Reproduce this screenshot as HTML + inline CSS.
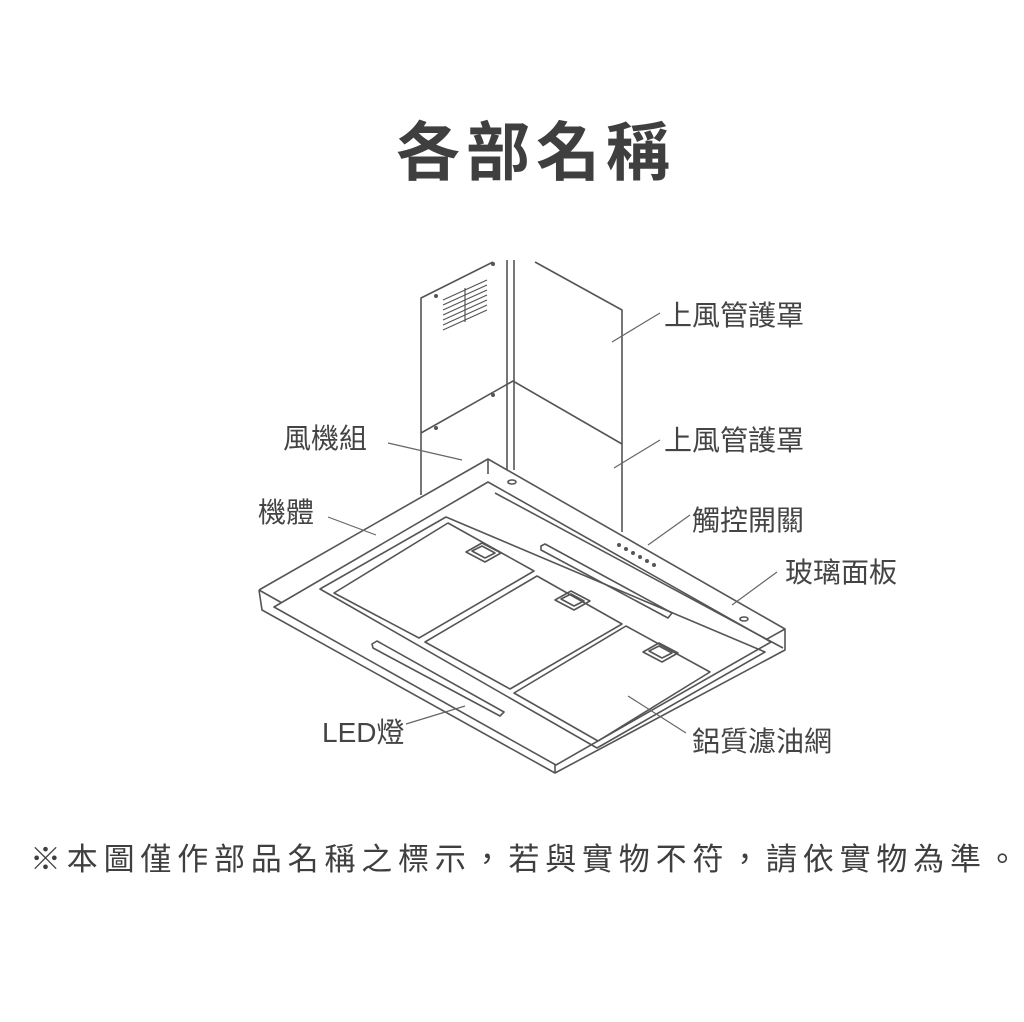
<!DOCTYPE html>
<html><head><meta charset="utf-8"><style>
body{margin:0;width:1024px;height:1022px;background:#fff;overflow:hidden;position:relative;font-family:"Liberation Sans","Noto Sans CJK TC",sans-serif;color:#444}
.t{position:absolute;white-space:nowrap}
.l{font-size:28px}
</style></head><body>
<div class="t" style="left:396px;top:102px;font-size:64px;font-weight:bold;letter-spacing:6px;color:#3f3f3f">各部名稱</div>
<svg width="1024" height="1022" style="position:absolute;left:0;top:0" fill="none" stroke="#555" stroke-width="1.6" stroke-linejoin="round">
<polyline points="421,495 421,298 493,262"/>
<line x1="507" y1="260" x2="507" y2="470"/><line x1="514" y1="260" x2="514" y2="470"/>
<polyline points="535,262 622,310 622,532"/>
<polyline points="421,433 513,381 622,444"/>
<g stroke-width="1.2"><line x1="443" y1="300" x2="487" y2="280"/><line x1="443" y1="305" x2="487" y2="285"/><line x1="443" y1="310" x2="487" y2="290"/><line x1="443" y1="315" x2="487" y2="295"/><line x1="443" y1="320" x2="487" y2="300"/><line x1="443" y1="325" x2="487" y2="305"/><line x1="443" y1="330" x2="487" y2="310"/><line x1="465" y1="288" x2="465" y2="322"/></g>
<polyline points="259,590 488,459 785,629 785,650 555,773 262,610 259,590" fill="#fff"/>
<polyline points="259,590 555,757 785,629"/>
<line x1="555" y1="757" x2="555" y2="773"/>
<line x1="488" y1="459" x2="488" y2="474"/>
<polygon points="274,607 488,482 771,642 556,765" fill="#fff"/>
<polygon points="320,589 446,517 765,652 597,748"/>
<polygon points="334,593 448,523 534,571 419,638"/>
<polygon points="425,642 537,576 622,624 510,689"/>
<polygon points="514,693 626,626 710,672 598,741"/>
<polygon points="466,552 482,543 501,553 485,562"/><polygon points="472,551 482,546 495,553 485,558"/>
<polygon points="555,600 571,591 590,601 574,610"/><polygon points="561,599 571,594 584,601 574,606"/>
<polygon points="643,652 659,643 678,653 662,662"/><polygon points="649,651 659,646 672,653 662,658"/>
<polygon points="372,644 377,641 504,712 500,716 373,648"/>
<polygon points="541,546 545,544 672,613 668,618 541,550"/>
<line x1="495" y1="493" x2="783" y2="648"/>
<g fill="#555" stroke="none"><circle cx="619" cy="545" r="2"/><circle cx="626" cy="549" r="2"/><circle cx="633" cy="553" r="2"/><circle cx="640" cy="557" r="2"/><circle cx="647" cy="561" r="2"/><circle cx="654" cy="565" r="2"/>
<circle cx="436" cy="296" r="2"/><circle cx="493" cy="264" r="2"/><circle cx="436" cy="428" r="2"/><circle cx="493" cy="395" r="2"/></g>
<ellipse cx="512" cy="482" rx="4" ry="2"/><ellipse cx="744" cy="619" rx="4" ry="2"/>
<g stroke="#666" stroke-width="1.2">
<line x1="612" y1="342" x2="660" y2="313"/>
<line x1="614" y1="468" x2="660" y2="440"/>
<line x1="388" y1="443" x2="462" y2="460"/>
<line x1="328" y1="517" x2="376" y2="535"/>
<line x1="648" y1="545" x2="690" y2="515"/>
<line x1="732" y1="605" x2="777" y2="572"/>
<line x1="628" y1="696" x2="686" y2="733"/>
<line x1="406" y1="724" x2="465" y2="706"/>
</g>
</svg>
<div class="t l" style="left:664px;top:294px">上風管護罩</div>
<div class="t l" style="left:664px;top:419px">上風管護罩</div>
<div class="t l" style="left:283px;top:417px">風機組</div>
<div class="t l" style="left:258px;top:491px">機體</div>
<div class="t l" style="left:692px;top:499px">觸控開關</div>
<div class="t l" style="left:785px;top:551px">玻璃面板</div>
<div class="t l" style="left:322px;top:711px">LED燈</div>
<div class="t l" style="left:692px;top:720px">鋁質濾油網</div>
<div class="t" style="left:30px;top:834px;font-size:31px;letter-spacing:5.8px;color:#3f3f3f">※本圖僅作部品名稱之標示，若與實物不符，請依實物為準。</div>
</body></html>
